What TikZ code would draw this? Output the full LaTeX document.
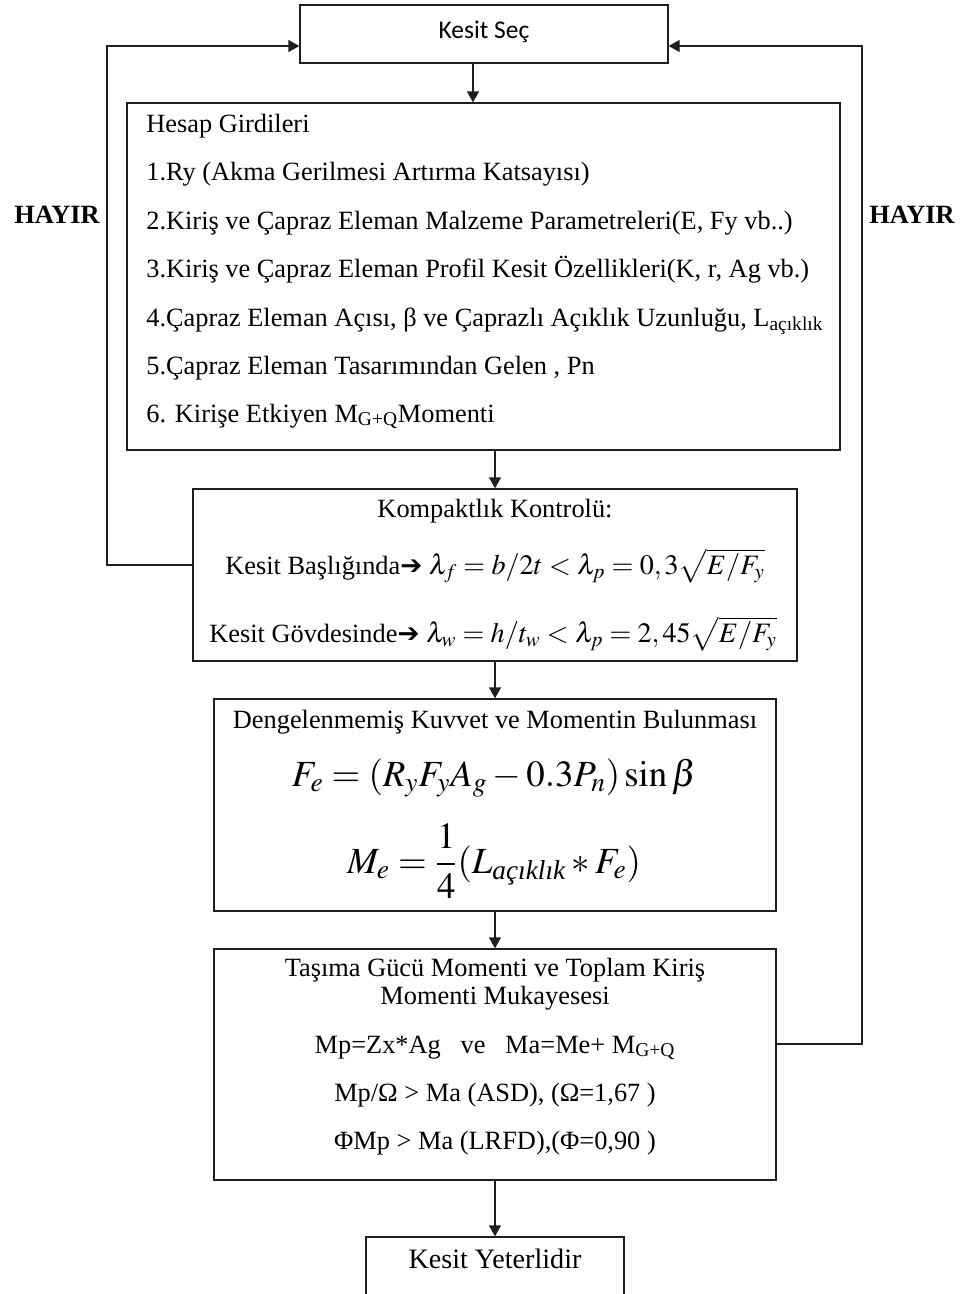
\documentclass[tikz,border=0pt]{standalone}
\usepackage{amsmath}
\usepackage[no-math]{fontspec}
\usepackage{mathptmx}
\setmainfont{Liberation Serif}
\newfontfamily\calibri{Carlito}
\newfontfamily\okfont{DejaVu Sans}
\usetikzlibrary{arrows.meta,positioning,calc}
\definecolor{ink}{RGB}{30,30,30}
\tikzset{
  kutu/.style={draw=ink,line width=0.8pt,inner sep=0pt},
  arr/.style={-{Triangle[length=2.2mm,width=2.4mm]},line width=0.8pt,draw=ink},
  yazi/.style={font=\fontsize{15}{18}\selectfont,inner sep=0pt,anchor=base},
  sol/.style={yazi,anchor=base west},
  formul/.style={font=\fontsize{21}{25}\selectfont,inner sep=0pt,anchor=base},
  hayir/.style={font=\fontsize{15}{18}\selectfont\bfseries,inner sep=0pt,anchor=base},
}
\newcommand{\ok}{{\okfont\char"2794}}
\newcommand{\bmat}[1]{{\fontsize{16}{19}\selectfont$#1$}}

\begin{document}
\begin{tikzpicture}
\useasboundingbox (0,0) rectangle (19.26,-25.88);
% kutular
\node[kutu,minimum width=7.36cm,minimum height=1.16cm] (sec) at (9.68,-0.68) {};
\node[kutu,minimum width=14.26cm,minimum height=6.94cm] (girdi) at (9.67,-5.53) {};
\node[kutu,minimum width=12.08cm,minimum height=3.44cm] (kompakt) at (9.9,-11.5) {};
\node[kutu,minimum width=11.24cm,minimum height=4.24cm] (denge) at (9.9,-16.1) {};
\node[kutu,minimum width=11.24cm,minimum height=4.62cm] (tasima) at (9.9,-21.29) {};
\node[kutu,minimum width=5.16cm,minimum height=1.3cm] (yeter) at (9.9,-25.39) {};

% Kesit Sec
\node[yazi,font=\calibri\fontsize{14.5}{17}\selectfont] (secy) at (9.68,-0.76) {Kesit Seç};

% Hesap girdileri
\node[sol] (g0) at (2.92,-2.64) {Hesap Girdileri};
\node[sol] (g1) at (2.92,-3.60) {1.Ry (Akma Gerilmesi Artırma Katsayısı)};
\node[sol] (g2) at (2.92,-4.58) {2.Kiriş ve Çapraz Eleman Malzeme Parametreleri(E, Fy vb..)};
\node[sol] (g3) at (2.92,-5.54) {3.Kiriş ve Çapraz Eleman Profil Kesit Özellikleri(K, r, Ag vb.)};
\node[sol] (g4) at (2.92,-6.52) {4.Çapraz Eleman Açısı, β ve Çaprazlı Açıklık Uzunluğu, L\textsubscript{açıklık}};
\node[sol] (g5) at (2.92,-7.48) {5.Çapraz Eleman Tasarımından Gelen , Pn};
\node[sol] (g6) at (2.92,-8.44) {6. Kirişe Etkiyen M\textsubscript{G+Q}Momenti};

% kompaktlik
\node[yazi] (k0) at (9.9,-10.34) {Kompaktlık Kontrolü:};
\node[yazi] (k1) at (9.9,-11.48) {Kesit Başlığında\ok\ \bmat{\lambda_f = b/2t < \lambda_p = 0,3\sqrt{E/F_y}}};
\node[yazi] (k2) at (9.86,-12.84) {Kesit Gövdesinde\ok\ \bmat{\lambda_w = h/t_w < \lambda_p = 2,45\sqrt{E/F_y}}};

% dengelenmemis kuvvet
\node[yazi] (d0) at (9.9,-14.56) {Dengelenmemiş Kuvvet ve Momentin Bulunması};
\node[formul] (d1) at (9.88,-15.72) {$F_e = (R_yF_yA_g - 0.3P_n)\sin\beta$};
\node[formul] (d2) at (9.88,-17.46) {$M_e = \dfrac{1}{4}(L_{\text{\itshape açıklık}} * F_e)$};

% tasima gucu
\node[yazi] (t0) at (9.9,-19.52) {Taşıma Gücü Momenti ve Toplam Kiriş};
\node[yazi] (t1) at (9.9,-20.08) {Momenti Mukayesesi};
\node[yazi] (t2) at (9.9,-21.06) {Mp=Zx*Ag\ \ \ ve\ \ \ Ma=Me+ M\textsubscript{G+Q}};
\node[yazi] (t3) at (9.9,-22.02) {Mp/Ω > Ma (ASD), (Ω=1,67 )};
\node[yazi] (t4) at (9.9,-22.98) {ΦMp > Ma (LRFD),(Φ=0,90 )};

\node[yazi,font=\fontsize{16}{19}\selectfont] (yetery) at (9.9,-25.36) {Kesit Yeterlidir};

% oklar
\draw[arr] ([xshift=-2.2mm]sec.south) -- ([xshift=-2.2mm]sec.south |- girdi.north);
\draw[arr] (kompakt.north |- girdi.south) -- (kompakt.north);
\draw[arr] (kompakt.south) -- (denge.north);
\draw[arr] (denge.south) -- (tasima.north);
\draw[arr] (tasima.south) -- (yeter.north);

% geri donus
\coordinate (solk) at (2.14,-0.92);
\coordinate (sagk) at (17.24,-0.92);
\draw[arr] ([yshift=2mm]kompakt.west) -| (solk) -- (solk -| sec.west);
\draw[arr] ([yshift=4.1mm]tasima.east) -| (sagk) -- (sagk -| sec.east);

\node[hayir] (hsol) at (1.14,-4.46) {HAYIR};
\node[hayir] (hsag) at (18.24,-4.46) {HAYIR};
\end{tikzpicture}
\end{document}
